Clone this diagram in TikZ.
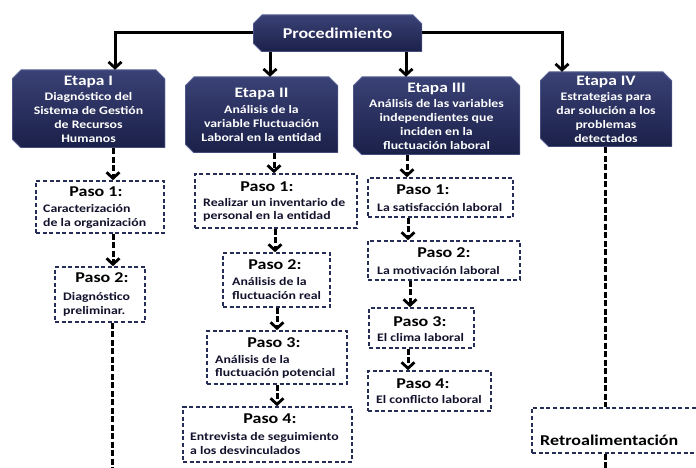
\documentclass[tikz,border=0pt]{standalone}
\usepackage{fontspec}
\setmainfont{Carlito}[FakeStretch=1.2]
\usetikzlibrary{arrows.meta,calc}
\definecolor{navyT}{RGB}{58,66,118}
\definecolor{navyB}{RGB}{26,32,72}
\definecolor{navyE}{RGB}{90,100,150}
\definecolor{dashC}{RGB}{38,46,88}
\definecolor{txtD}{RGB}{18,18,45}
\tikzset{
  etapa/.style={rectangle, inner sep=0pt, text=white, align=center,
    font=\bfseries\fontsize{11.5}{14}\selectfont,
    path picture={
      \shade[top color=navyT, bottom color=navyB, draw=navyE, line width=1pt]
        ([yshift=-9pt]path picture bounding box.north west) --
        ([xshift=9pt]path picture bounding box.north west) --
        ([xshift=-9pt]path picture bounding box.north east) --
        ([yshift=-9pt]path picture bounding box.north east) --
        (path picture bounding box.south east) --
        ([xshift=9pt]path picture bounding box.south west) --
        ([yshift=9pt]path picture bounding box.south west) -- cycle;
    }},
  pasobox/.style={rectangle, draw=dashC, line width=1.6pt, dash pattern=on 4pt off 2.6pt, inner sep=0pt},
  ptitle/.style={font=\bfseries\fontsize{15}{16}\selectfont, text=black, inner sep=0pt},
  pdesc/.style={font=\bfseries\fontsize{11.5}{13.5}\selectfont, text=txtD, align=left, inner sep=0pt, anchor=west},
  conn/.style={draw=black, line width=3pt},
  arr/.style={conn, -{Straight Barb[length=6pt,width=13pt,line width=2.8pt]}},
  darr/.style={arr, dash pattern=on 6pt off 2.5pt},
  dline/.style={conn, dash pattern=on 6pt off 2.5pt},
}
\begin{document}
\begin{tikzpicture}[x=1pt,y=-1pt]
\useasboundingbox[fill=white] (0,0) rectangle (696,468);

% main
\node[etapa, minimum width=169pt, minimum height=37pt] (proc) at (337.5,33.5)
  {\fontsize{15}{16}\selectfont Procedimiento};

\node[etapa, minimum width=153pt, minimum height=78pt] (e1) at (88.5,109)
  {{\fontsize{14.5}{16}\selectfont Etapa I}\\[1pt] Diagnóstico del\\ Sistema de Gestión\\ de Recursos\\ Humanos};
\node[etapa, minimum width=153pt, minimum height=76pt] (e2) at (261.5,115)
  {{\fontsize{14.5}{16}\selectfont Etapa II}\\[2pt] Análisis de la\\ variable Fluctuación\\ Laboral en la  entidad};
\node[etapa, minimum width=167pt, minimum height=78pt] (e3) at (436.5,116)
  {{\fontsize{14.5}{16}\selectfont Etapa III}\\[1pt] Análisis de las variables\\ independientes que\\ inciden en la\\ fluctuación laboral};
\node[etapa, minimum width=132pt, minimum height=75pt] (e4) at (606,109.5)
  {{\fontsize{14.5}{16}\selectfont Etapa IV}\\[1pt] Estrategias para\\ dar solución a los\\ problemas\\ detectados};

% arrows from main
\draw[arr] (proc.west |- 0,33) -| (115,0 |- e1.north);
\draw[arr] (proc.east |- 0,33) -| (562,0 |- e4.north);
\draw[arr] (270,0 |- proc.south) -- (270,0 |- e2.north);
\draw[arr] (406,0 |- proc.south) -- (406,0 |- e3.north);

% Etapa I pasos
\node[pasobox, minimum width=128pt, minimum height=52pt] (e1p1) at (100,207) {};
\node[ptitle] (e1p1t) at (96,192) {Paso 1:};
\node[pdesc] (e1p1d) at (43,216.5) {Caracterización\\ de la organización};
\node[pasobox, minimum width=90pt, minimum height=55pt] (e1p2) at (100,294.5) {};
\node[ptitle] (e1p2t) at (102,278) {Paso 2:};
\node[pdesc] (e1p2d) at (63,304.5) {Diagnóstico\\ preliminar.};

% Etapa II pasos
\node[pasobox, minimum width=162pt, minimum height=54pt] (e2p1) at (276,201) {};
\node[ptitle] (e2p1t) at (267,187) {Paso 1:};
\node[pdesc] (e2p1d) at (203,210) {Realizar un inventario de\\ personal en la entidad};
\node[pasobox, minimum width=107pt, minimum height=54pt] (e2p2) at (276.5,280) {};
\node[ptitle] (e2p2t) at (275,265) {Paso 2:};
\node[pdesc] (e2p2d) at (232,288.5) {Análisis de la\\ fluctuación real};
\node[pasobox, minimum width=140pt, minimum height=53pt] (e2p3) at (277,357.5) {};
\node[ptitle] (e2p3t) at (274,343) {Paso 3:};
\node[pdesc] (e2p3d) at (215,367) {Análisis de la\\ fluctuación potencial};
\node[pasobox, minimum width=169pt, minimum height=55pt] (e2p4) at (267.5,434.5) {};
\node[ptitle] (e2p4t) at (270,419) {Paso 4:};
\node[pdesc] (e2p4d) at (190,443.5) {Entrevista de seguimiento\\ a los desvinculados};

% Etapa III pasos
\node[pasobox, minimum width=145pt, minimum height=39pt] (e3p1) at (440.5,197.5) {};
\node[ptitle] (e3p1t) at (423,190) {Paso 1:};
\node[pdesc] (e3p1d) at (377,207) {La satisfacción laboral};
\node[pasobox, minimum width=152pt, minimum height=39pt] (e3p2) at (444,260.5) {};
\node[ptitle] (e3p2t) at (444,253) {Paso 2:};
\node[pdesc] (e3p2d) at (377,270) {La motivación laboral};
\node[pasobox, minimum width=105pt, minimum height=40pt] (e3p3) at (421.5,328) {};
\node[ptitle] (e3p3t) at (420,322) {Paso 3:};
\node[pdesc] (e3p3d) at (377,338) {El clima laboral};
\node[pasobox, minimum width=123pt, minimum height=40pt] (e3p4) at (429.5,391) {};
\node[ptitle] (e3p4t) at (423,384) {Paso 4:};
\node[pdesc] (e3p4d) at (376,400) {El conflicto laboral};

% Retroalimentacion
\node[pasobox, minimum width=188pt, minimum height=45pt] (retro) at (626,430.5) {};
\node[ptitle, anchor=west] (retrot) at (540,440) {Retroalimentación};

% dashed connectors
\coordinate (b1) at (112,470);
\coordinate (b4) at (605,470);
\draw[darr] (113,0 |- e1.south) -- (113,0 |- e1p1.north);
\draw[darr] (113,0 |- e1p1.south) -- (113,0 |- e1p2.north);
\draw[dline] (112,0 |- e1p2.south) -- (b1);

\draw[darr] (274,0 |- e2.south) -- (274,0 |- e2p1.north);
\draw[darr] (275,0 |- e2p1.south) -- (275,0 |- e2p2.north);
\draw[darr] (277,0 |- e2p2.south) -- (277,0 |- e2p3.north);
\draw[darr] (277,0 |- e2p3.south) -- (277,0 |- e2p4.north);

\draw[darr] (407,0 |- e3.south) -- (407,0 |- e3p1.north);
\draw[darr] (408,0 |- e3p1.south) -- (408,0 |- e3p2.north);
\draw[darr] (410,0 |- e3p2.south) -- (410,0 |- e3p3.north);
\draw[darr] (408,0 |- e3p3.south) -- (408,0 |- e3p4.north);

\draw[dline] (605,0 |- e4.south) -- (605,0 |- retro.north);
\draw[dline] (605,0 |- retro.south) -- (b4);
\end{tikzpicture}
\end{document}
